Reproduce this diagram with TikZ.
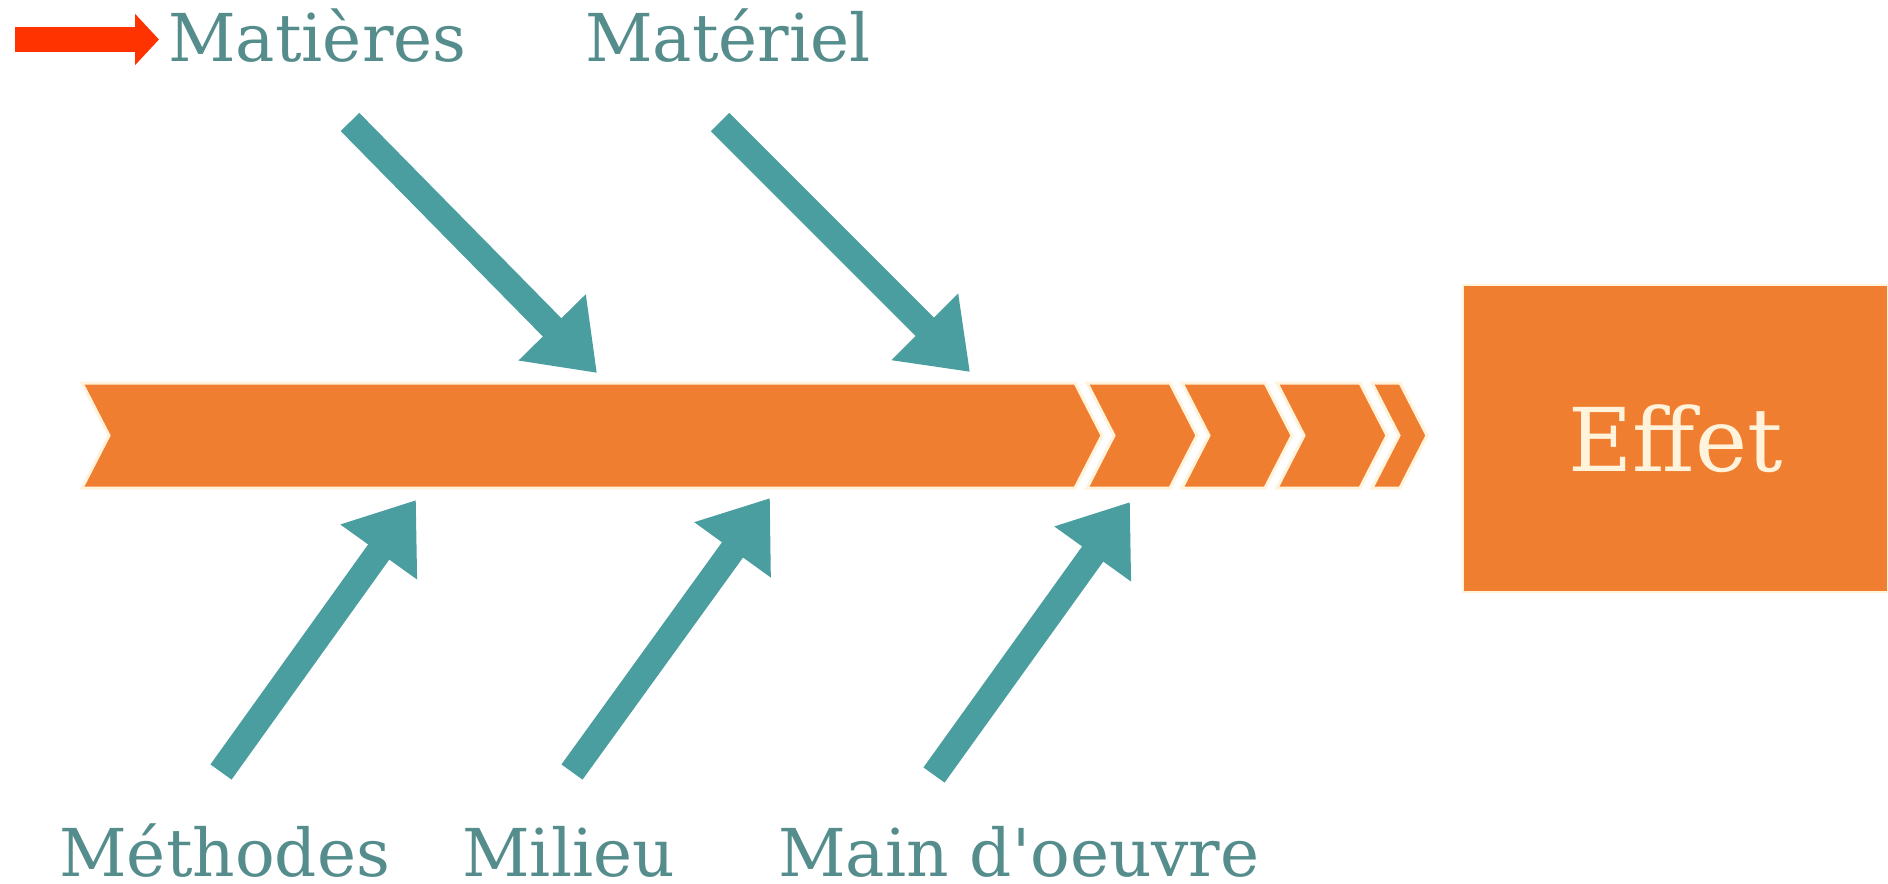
\documentclass[tikz,border=0pt]{standalone}
\usepackage{fontspec}
\setmainfont{DejaVu Serif}[Ligatures=TeXOff]
\usetikzlibrary{arrows.meta}
\definecolor{spineor}{HTML}{F07E30}
\definecolor{fishteal}{HTML}{4A9EA0}
\definecolor{labtxt}{HTML}{558C8C}
\definecolor{cream}{HTML}{FFF3DC}
\definecolor{redarr}{HTML}{FF3300}
\begin{document}
\begin{tikzpicture}[x=0.5pt,y=-0.5pt,
  lab/.style={inner sep=0pt, anchor=base west, text depth=0pt, text=labtxt, font=\fontsize{33}{36}\selectfont},
  bone/.style={line width=13pt, draw=fishteal, -{Triangle[length=32pt,width=45pt]}},
  seg/.style={fill=spineor, draw=cream, line width=1.5pt, line join=miter}]
\useasboundingbox[fill=white] (0,0) rectangle (1888,883);
% spine
\path[seg] (82,383) -- (1075,383) -- (1102,435.5) -- (1075,488) -- (82,488) -- (109,435.5) -- cycle;
\path[seg] (1087,383) -- (1170,383) -- (1197,435.5) -- (1170,488) -- (1087,488) -- (1114,435.5) -- cycle;
\path[seg] (1182,383) -- (1265,383) -- (1292,435.5) -- (1265,488) -- (1182,488) -- (1209,435.5) -- cycle;
\path[seg] (1277,383) -- (1360,383) -- (1387,435.5) -- (1360,488) -- (1277,488) -- (1304,435.5) -- cycle;
\path[seg] (1372,383) -- (1400,383) -- (1427,435.5) -- (1400,488) -- (1372,488) -- (1399,435.5) -- cycle;
% effect box
\node[fill=spineor, draw=cream, line width=1pt, minimum width=212.5pt, minimum height=153.5pt, inner sep=0pt,
      text=cream, font=\fontsize{44}{48}\selectfont] (effet) at (1675.5,438.5) {Effet};
% labels
\node[lab] (mat) at (168,62) {Matières};
\node[lab] (matl) at (585,62) {Matériel};
\node[lab] (meth) at (59,876) {Méthodes};
\node[lab] (mil) at (462,876) {Milieu};
\node[lab] (main) at (778,876) {Main d'oeuvre};
% bones
\coordinate (t1) at (350,122); \coordinate (p1) at (597,373);
\coordinate (t2) at (720,122); \coordinate (p2) at (970,372);
\coordinate (t3) at (221,772); \coordinate (p3) at (416,500);
\coordinate (t4) at (572,772); \coordinate (p4) at (770,498);
\coordinate (t5) at (934,775); \coordinate (p5) at (1130,502);
\draw[bone] (t1) -- (p1);
\draw[bone] (t2) -- (p2);
\draw[bone] (t3) -- (p3);
\draw[bone] (t4) -- (p4);
\draw[bone] (t5) -- (p5);
% red pointer
\coordinate (rt) at (15,39.5); \coordinate (rp) at (159,39.5);
\draw[line width=12.5pt, draw=redarr, -{Triangle[length=12pt,width=25pt]}] (rt) -- (rp);
\end{tikzpicture}
\end{document}
